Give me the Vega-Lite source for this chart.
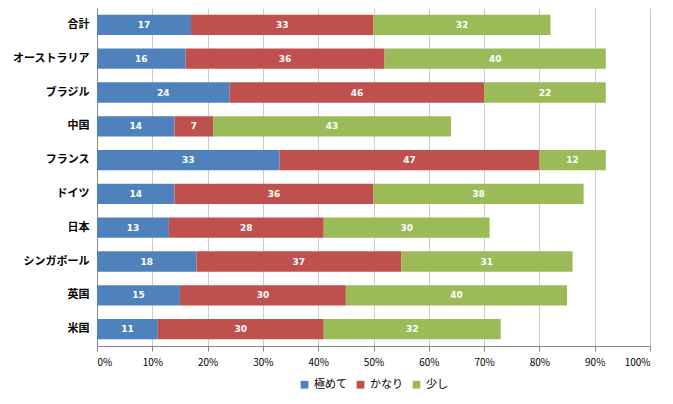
{
  "$schema": "https://vega.github.io/schema/vega-lite/v6.json",
  "autosize": {"type": "fit", "contains": "padding"},
  "width": 673,
  "height": 404,
  "padding": {"left": 12, "top": 8, "right": 22, "bottom": 14},
  "config": {"font": "Noto Sans CJK JP", "view": {"stroke": null}, "legend": {"layout": {"bottom": {"anchor": "middle"}}}},
  "data": {"values": [
    {"c":"合計","s":"極めて","o":1,"v":17},{"c":"合計","s":"かなり","o":2,"v":33},{"c":"合計","s":"少し","o":3,"v":32},
    {"c":"オーストラリア","s":"極めて","o":1,"v":16},{"c":"オーストラリア","s":"かなり","o":2,"v":36},{"c":"オーストラリア","s":"少し","o":3,"v":40},
    {"c":"ブラジル","s":"極めて","o":1,"v":24},{"c":"ブラジル","s":"かなり","o":2,"v":46},{"c":"ブラジル","s":"少し","o":3,"v":22},
    {"c":"中国","s":"極めて","o":1,"v":14},{"c":"中国","s":"かなり","o":2,"v":7},{"c":"中国","s":"少し","o":3,"v":43},
    {"c":"フランス","s":"極めて","o":1,"v":33},{"c":"フランス","s":"かなり","o":2,"v":47},{"c":"フランス","s":"少し","o":3,"v":12},
    {"c":"ドイツ","s":"極めて","o":1,"v":14},{"c":"ドイツ","s":"かなり","o":2,"v":36},{"c":"ドイツ","s":"少し","o":3,"v":38},
    {"c":"日本","s":"極めて","o":1,"v":13},{"c":"日本","s":"かなり","o":2,"v":28},{"c":"日本","s":"少し","o":3,"v":30},
    {"c":"シンガポール","s":"極めて","o":1,"v":18},{"c":"シンガポール","s":"かなり","o":2,"v":37},{"c":"シンガポール","s":"少し","o":3,"v":31},
    {"c":"英国","s":"極めて","o":1,"v":15},{"c":"英国","s":"かなり","o":2,"v":30},{"c":"英国","s":"少し","o":3,"v":40},
    {"c":"米国","s":"極めて","o":1,"v":11},{"c":"米国","s":"かなり","o":2,"v":30},{"c":"米国","s":"少し","o":3,"v":32}
  ]},
  "transform": [
    {"stack": "v", "groupby": ["c"], "sort": [{"field": "o"}], "as": ["v0", "v1"]},
    {"calculate": "(datum.v0 + datum.v1) / 2", "as": "mid"}
  ],
  "encoding": {
    "y": {"field": "c", "type": "nominal",
      "sort": ["合計","オーストラリア","ブラジル","中国","フランス","ドイツ","日本","シンガポール","英国","米国"],
      "scale": {"paddingInner": 0.4, "paddingOuter": 0.2},
      "axis": {"title": null, "ticks": false, "labelFontSize": 11, "labelFontWeight": "bold", "labelColor": "#000", "domainColor": "#888", "labelPadding": 8}}
  },
  "layer": [
    {
      "mark": {"type": "bar"},
      "encoding": {
        "x": {"field": "v0", "type": "quantitative", "scale": {"domain": [0, 100]},
          "axis": {"title": null, "values": [0,10,20,30,40,50,60,70,80,90,100], "labelExpr": "datum.value + '%'", "labelFontSize": 10, "labelColor": "#000", "gridColor": "#ccc", "domainColor": "#888", "tickColor": "#888", "labelPadding": 6}},
        "x2": {"field": "v1"},
        "color": {"field": "s", "type": "nominal", "sort": ["極めて","かなり","少し"],
          "scale": {"domain": ["極めて","かなり","少し"], "range": ["#4F81BD", "#C0504D", "#9BBB59"]},
          "legend": {"orient": "bottom", "direction": "horizontal", "title": null, "symbolType": "square", "labelFontSize": 11, "symbolSize": 60, "columnPadding": 8, "offset": 12}}
      }
    },
    {
      "mark": {"type": "text", "color": "white", "fontWeight": "bold", "fontSize": 9, "font": "DejaVu Sans"},
      "encoding": {
        "x": {"field": "mid", "type": "quantitative"},
        "text": {"field": "v", "type": "quantitative", "format": "d"}
      },
      "transform": [{"calculate": "datum.v + '%'", "as": "lab"}]
    }
  ]
}
